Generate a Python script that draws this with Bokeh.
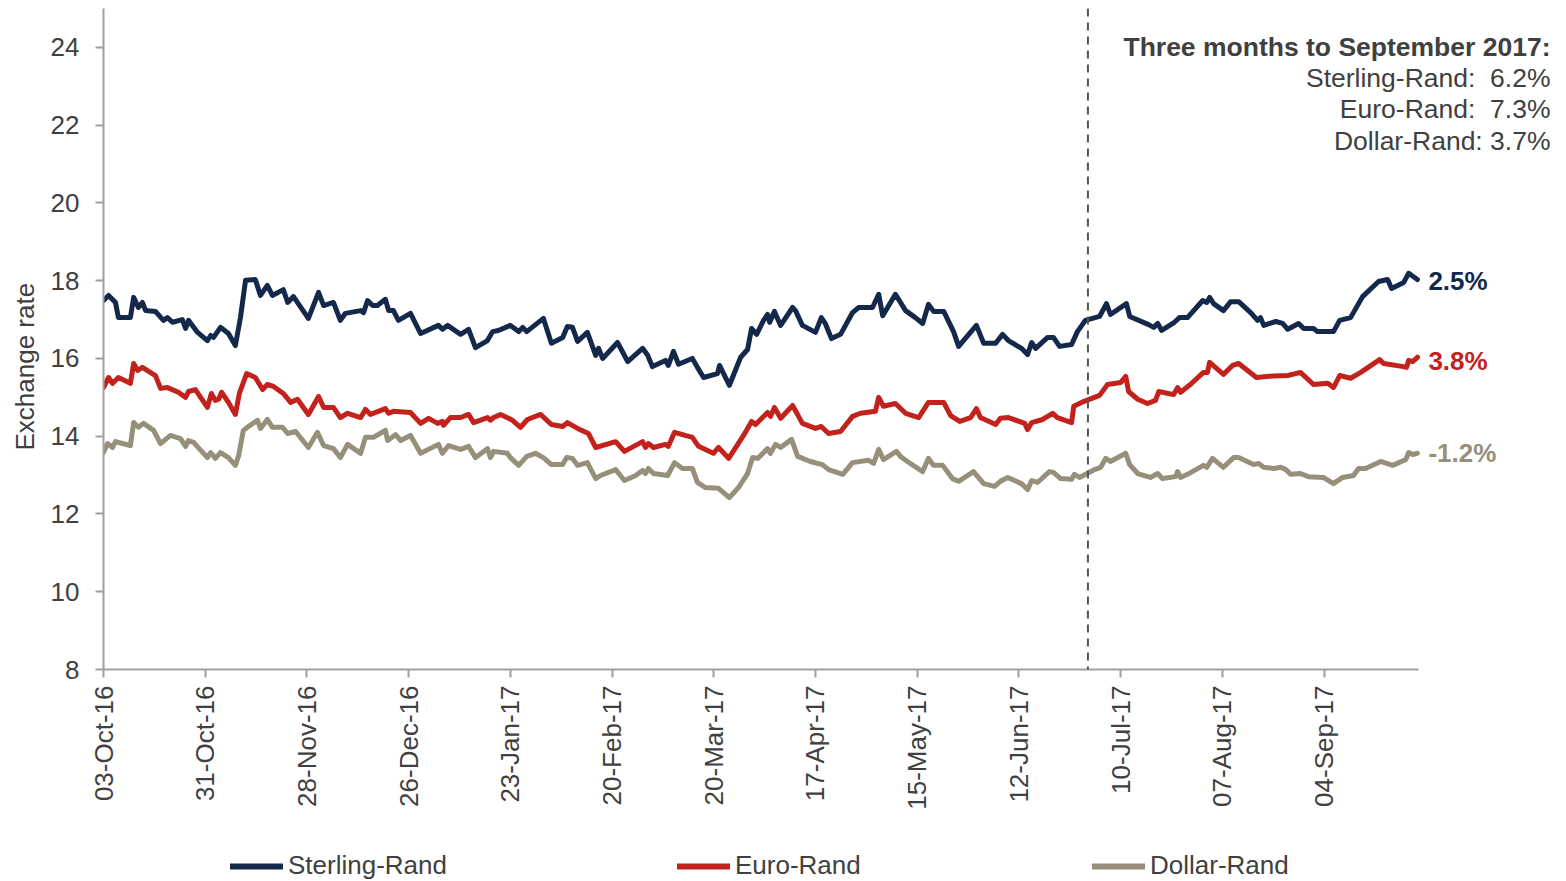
import math
import numpy as np
import pandas as pd
from bokeh.plotting import figure
from bokeh.layouts import column
from bokeh.models import (Range1d, FixedTicker, DatetimeTickFormatter, Span, Label,
                          Legend, LegendItem, Title)
from bokeh.embed import file_html
from bokeh.resources import INLINE

# ---------------- data ----------------
START = "2016-10-03"

sterling_days = [
    0, 1.4, 3.3, 4.1, 7.4, 8.3, 9.6, 10.7, 11.6, 14.3,
    16.5, 17.6, 19.0, 21.7, 22.6, 23.4, 25.9, 28.6, 29.5, 30.3,
    32.2, 34.4, 36.3, 37.7, 39.1, 41.8, 43.2, 45.1, 46.5, 49.5,
    50.7, 52.3, 56.4, 59.2, 60.6, 63.3, 65.2, 66.6, 70.8, 71.6,
    72.7, 74.1, 75.4, 77.6, 78.5, 79.8, 81.2, 84.5, 87.3, 92.2,
    93.3, 94.7, 98.3, 100.5, 102.4, 105.7, 107.1, 108.7, 112.0, 114.3,
    115.4, 116.5, 121.1, 123.3, 126.4, 127.7, 129.1, 130.5, 133.2, 135.5,
    136.3, 137.4, 141.5, 144.3, 148.4, 149.8, 151.1, 154.7, 155.5, 156.9,
    158.3, 162.1, 163.5, 165.2, 169.0, 169.6, 170.7, 172.3, 175.4, 177.3,
    178.4, 179.8, 181.7, 182.8, 183.4, 184.7, 186.4, 189.7, 190.5, 192.4,
    196.0, 197.6, 198.7, 200.4, 202.9, 206.2, 207.9, 211.7, 213.4, 214.5,
    218.0, 220.8, 223.5, 225.5, 227.1, 228.5, 231.3, 234.0, 235.4, 240.3,
    242.3, 245.6, 247.5, 249.1, 252.7, 254.4, 255.5, 256.6, 259.9, 261.5,
    263.2, 266.5, 268.1, 270.3, 274.2, 276.1, 277.2, 281.6, 282.5, 287.7,
    289.1, 290.2, 291.3, 294.8, 296.2, 298.4, 302.6, 303.7, 304.5, 305.6,
    308.3, 310.3, 312.5, 315.8, 317.7, 318.5, 319.4, 322.7, 324.6, 326.0,
    329.0, 330.4, 333.1, 334.2, 338.6, 340.3, 343.3, 346.6, 351.0, 353.5,
    354.6, 357.9, 359.3, 361.7,
]
sterling_rate = [
    17.49, 17.62, 17.44, 17.05, 17.05, 17.57, 17.31, 17.44, 17.23, 17.21,
    16.98, 17.05, 16.93, 17.00, 16.77, 16.98, 16.67, 16.46, 16.59, 16.54,
    16.80, 16.64, 16.33, 17.05, 18.01, 18.03, 17.62, 17.88, 17.62, 17.77,
    17.44, 17.59, 17.03, 17.70, 17.36, 17.44, 16.98, 17.16, 17.23, 17.18,
    17.49, 17.36, 17.36, 17.52, 17.23, 17.23, 16.98, 17.16, 16.64, 16.85,
    16.75, 16.85, 16.62, 16.75, 16.28, 16.46, 16.69, 16.72, 16.85, 16.69,
    16.80, 16.69, 17.03, 16.39, 16.54, 16.82, 16.80, 16.44, 16.67, 16.08,
    16.26, 16.00, 16.41, 15.92, 16.26, 16.08, 15.79, 15.95, 15.82, 16.18,
    15.85, 16.00, 15.77, 15.51, 15.61, 15.82, 15.61, 15.31, 16.03, 16.23,
    16.77, 16.62, 16.98, 17.13, 16.93, 17.21, 16.85, 17.31, 17.23, 16.85,
    16.67, 17.05, 16.90, 16.51, 16.62, 17.18, 17.31, 17.31, 17.65, 17.10,
    17.65, 17.23, 17.05, 16.90, 17.39, 17.21, 17.21, 16.69, 16.31, 16.85,
    16.39, 16.39, 16.62, 16.46, 16.26, 16.10, 16.41, 16.26, 16.54, 16.54,
    16.31, 16.36, 16.69, 16.98, 17.08, 17.41, 17.13, 17.41, 17.08, 16.87,
    16.80, 16.90, 16.72, 16.93, 17.05, 17.05, 17.49, 17.44, 17.57, 17.41,
    17.23, 17.46, 17.46, 17.18, 16.98, 17.05, 16.85, 16.95, 16.90, 16.75,
    16.90, 16.77, 16.77, 16.69, 16.69, 16.98, 17.05, 17.59, 17.98, 18.03,
    17.80, 17.95, 18.19, 18.03,
]

euro_days = [
    0, 1.4, 2.5, 4.1, 7.4, 8.3, 9.4, 10.7, 14.3, 15.7,
    17.6, 20.6, 22.6, 23.4, 25.3, 28.6, 29.7, 30.8, 31.7, 32.5,
    34.4, 36.3, 37.4, 39.4, 41.8, 43.8, 45.1, 46.8, 49.5, 51.5,
    53.4, 56.4, 59.2, 60.6, 63.3, 65.2, 67.2, 70.8, 72.1, 73.5,
    77.6, 78.5, 79.8, 84.5, 87.3, 89.5, 92.0, 93.3, 93.6, 95.5,
    98.3, 100.5, 101.9, 105.7, 106.5, 107.4, 109.3, 112.6, 114.8, 116.7,
    120.3, 123.3, 126.4, 127.7, 130.5, 133.5, 135.5, 141.0, 143.4, 148.4,
    149.2, 150.0, 151.4, 154.7, 155.5, 157.2, 162.1, 163.8, 167.9, 169.3,
    172.1, 176.2, 178.4, 179.5, 182.8, 183.6, 184.7, 186.4, 189.7, 192.4,
    196.0, 197.6, 199.6, 202.9, 206.2, 208.4, 212.5, 213.4, 214.7, 218.0,
    220.8, 224.4, 227.1, 231.3, 233.2, 235.7, 238.7, 240.3, 241.4, 245.6,
    246.9, 249.1, 253.6, 254.4, 255.5, 258.5, 261.3, 262.6, 266.5, 267.1,
    269.8, 274.2, 276.4, 280.0, 281.4, 282.2, 284.7, 287.4, 289.6, 290.5,
    294.6, 295.7, 296.5, 299.2, 302.8, 303.9, 304.5, 308.3, 310.8, 312.5,
    315.2, 317.4, 322.2, 326.0, 329.5, 333.1, 337.0, 338.6, 340.3, 343.3,
    346.1, 351.3, 352.4, 357.9, 358.7, 359.3, 360.4, 361.7,
]
euro_rate = [
    15.25, 15.51, 15.36, 15.51, 15.36, 15.87, 15.69, 15.77, 15.56, 15.23,
    15.25, 15.13, 15.00, 15.15, 15.20, 14.74, 15.10, 14.92, 14.95, 15.13,
    14.87, 14.56, 15.10, 15.61, 15.51, 15.20, 15.33, 15.28, 15.10, 14.87,
    14.95, 14.56, 15.02, 14.74, 14.74, 14.48, 14.59, 14.48, 14.69, 14.56,
    14.71, 14.59, 14.64, 14.61, 14.33, 14.46, 14.33, 14.38, 14.28, 14.48,
    14.48, 14.56, 14.35, 14.48, 14.41, 14.48, 14.56, 14.41, 14.23, 14.43,
    14.56, 14.30, 14.25, 14.35, 14.20, 14.07, 13.71, 13.86, 13.61, 13.86,
    13.71, 13.81, 13.71, 13.79, 13.74, 14.10, 13.97, 13.74, 13.56, 13.71,
    13.43, 14.02, 14.38, 14.30, 14.61, 14.51, 14.74, 14.46, 14.79, 14.33,
    14.20, 14.25, 14.07, 14.12, 14.51, 14.59, 14.64, 15.00, 14.77, 14.84,
    14.59, 14.48, 14.87, 14.87, 14.53, 14.38, 14.48, 14.71, 14.48, 14.30,
    14.46, 14.48, 14.33, 14.17, 14.35, 14.43, 14.59, 14.48, 14.35, 14.77,
    14.89, 15.05, 15.33, 15.38, 15.54, 15.15, 14.95, 14.84, 14.92, 15.15,
    15.07, 15.25, 15.13, 15.33, 15.64, 15.64, 15.90, 15.59, 15.82, 15.87,
    15.67, 15.51, 15.55, 15.56, 15.64, 15.33, 15.36, 15.25, 15.56, 15.49,
    15.64, 15.97, 15.87, 15.79, 15.77, 15.95, 15.92, 16.03,
]

dollar_days = [
    0, 1.1, 2.5, 3.3, 7.4, 8.3, 9.6, 11.0, 13.8, 15.7,
    18.4, 21.2, 22.6, 23.4, 24.8, 28.6, 29.5, 30.8, 32.2, 34.4,
    36.3, 37.2, 38.5, 39.9, 42.4, 43.2, 45.1, 46.5, 49.3, 50.7,
    52.9, 56.4, 58.9, 60.6, 63.3, 65.2, 67.2, 70.8, 72.1, 74.3,
    77.6, 78.2, 80.4, 81.8, 84.5, 87.3, 92.2, 93.3, 95.0, 98.3,
    100.5, 102.4, 105.7, 106.5, 107.4, 111.2, 112.0, 114.3, 116.5, 118.9,
    121.1, 123.3, 126.4, 127.5, 129.1, 130.5, 133.2, 135.5, 136.8, 141.0,
    143.4, 146.5, 148.4, 149.2, 150.0, 151.4, 155.3, 157.2, 159.4, 162.1,
    163.5, 165.7, 169.3, 172.3, 174.8, 177.3, 178.7, 180.1, 182.8, 183.6,
    185.0, 186.4, 189.4, 191.1, 194.6, 197.9, 199.6, 203.5, 206.2, 210.6,
    212.0, 213.4, 214.7, 218.3, 219.4, 221.3, 225.5, 227.1, 228.5, 231.0,
    233.7, 235.4, 239.5, 242.3, 245.3, 246.9, 248.9, 252.7, 254.4, 255.5,
    257.1, 260.4, 261.5, 263.5, 266.5, 267.3, 268.7, 272.3, 274.5, 275.9,
    277.2, 281.4, 282.5, 284.7, 288.2, 290.2, 291.5, 295.1, 295.7, 296.5,
    298.4, 302.8, 303.7, 305.3, 308.3, 311.1, 312.5, 316.6, 318.0, 319.4,
    322.2, 324.1, 325.5, 326.8, 329.5, 331.7, 335.8, 338.6, 341.1, 344.1,
    345.5, 347.4, 351.6, 354.9, 358.5, 359.3, 360.4, 361.7,
]
dollar_rate = [
    13.58, 13.81, 13.71, 13.86, 13.76, 14.35, 14.23, 14.33, 14.15, 13.81,
    14.02, 13.94, 13.74, 13.89, 13.84, 13.45, 13.58, 13.43, 13.58, 13.45,
    13.25, 13.50, 14.15, 14.25, 14.41, 14.20, 14.43, 14.23, 14.23, 14.07,
    14.12, 13.71, 14.10, 13.76, 13.68, 13.45, 13.79, 13.56, 13.97, 13.97,
    14.15, 13.89, 14.04, 13.89, 14.02, 13.56, 13.79, 13.56, 13.76, 13.66,
    13.74, 13.45, 13.68, 13.45, 13.61, 13.56, 13.45, 13.25, 13.48, 13.56,
    13.45, 13.27, 13.27, 13.45, 13.43, 13.25, 13.32, 12.91, 12.99, 13.14,
    12.86, 12.99, 13.12, 13.04, 13.17, 13.04, 12.99, 13.32, 13.17, 13.17,
    12.81, 12.68, 12.66, 12.42, 12.68, 13.04, 13.45, 13.43, 13.68, 13.56,
    13.79, 13.71, 13.92, 13.48, 13.35, 13.27, 13.14, 13.02, 13.32, 13.38,
    13.30, 13.66, 13.40, 13.61, 13.48, 13.35, 13.09, 13.43, 13.25, 13.25,
    12.91, 12.84, 13.09, 12.78, 12.71, 12.84, 12.94, 12.78, 12.63, 12.86,
    12.81, 13.09, 13.07, 12.91, 12.89, 13.02, 12.94, 13.12, 13.20, 13.43,
    13.35, 13.56, 13.27, 13.04, 12.94, 13.04, 12.91, 12.96, 13.09, 12.94,
    13.02, 13.25, 13.20, 13.43, 13.20, 13.45, 13.45, 13.27, 13.30, 13.20,
    13.17, 13.20, 13.14, 13.02, 13.04, 12.96, 12.94, 12.78, 12.94, 12.99,
    13.17, 13.17, 13.35, 13.25, 13.40, 13.58, 13.53, 13.56,
]

series_names = ["Sterling-Rand", "Euro-Rand", "Dollar-Rand"]
year_change = ["2.5%", "3.8%", "-1.2%"]
quarter_change = ["6.2%", "7.3%", "3.7%"]
quarter_title = "Three months to September 2017:"
quarter_start = "2017-07-01"
x_tick_dates = ["2016-10-03", "2016-10-31", "2016-11-28", "2016-12-26", "2017-01-23",
                "2017-02-20", "2017-03-20", "2017-04-17", "2017-05-15", "2017-06-12",
                "2017-07-10", "2017-08-07", "2017-09-04"]
y_ticks = [8, 10, 12, 14, 16, 18, 20, 22, 24]
x_end = "2017-09-30"

# ---------------- style / layout ----------------
COLORS = ["#13284A", "#C3221C", "#968F79"]
TEXT = "#404040"
AXIS = "#A0A0A0"
FONT = "Liberation Sans"
FS = "26px"

W, H = 1566, 881
LEG_H = 30                      # legend strip at the bottom
MAIN_H = H - LEG_H
LEFT, TOP = 103, 8
AXIS_RIGHT = 1418               # where the x axis ends (canvas px)
FRAME_BOTTOM = 669              # canvas px
BOTTOM = MAIN_H - FRAME_BOTTOM


def ms(d):
    return pd.Timestamp(d).value / 1e6


def to_dates(days):
    return pd.Timestamp(START) + pd.to_timedelta(np.asarray(days, dtype=float), unit="D")


# frame spans to the right edge so that end labels and notes are not clipped;
# the x range is stretched so the axis (bounded) still ends at AXIS_RIGHT
frame_w = W - LEFT
x0, x1 = ms(START), ms(x_end)
x_range_end = x0 + (x1 - x0) * frame_w / (AXIS_RIGHT - LEFT)

p = figure(width=W, height=MAIN_H, x_axis_type="datetime", output_backend="svg",
           toolbar_location=None,
           x_range=Range1d(x0, x_range_end), y_range=Range1d(8, 25),
           min_border_left=LEFT, min_border_right=0,
           min_border_top=TOP, min_border_bottom=BOTTOM)
p.outline_line_color = None
p.grid.visible = False

series = [(sterling_days, sterling_rate), (euro_days, euro_rate), (dollar_days, dollar_rate)]
for (d, v), c in zip(series, COLORS):
    assert len(d) == len(v)
    p.line(to_dates(d), v, line_color=c, line_width=5, line_join="round", line_cap="round")

# axes
for ax in (p.xaxis[0], p.yaxis[0]):
    ax.axis_line_color = AXIS
    ax.axis_line_width = 2
    ax.major_tick_line_color = AXIS
    ax.major_tick_line_width = 2
    ax.major_tick_out = 8
    ax.major_tick_in = 0
    ax.minor_tick_line_color = None
    ax.major_label_text_color = TEXT
    ax.major_label_text_font = FONT
    ax.major_label_text_font_size = FS

p.yaxis[0].ticker = FixedTicker(ticks=y_ticks)
p.yaxis[0].major_label_standoff = 16
p.xaxis[0].ticker = FixedTicker(ticks=[ms(t) for t in x_tick_dates])
p.xaxis[0].bounds = (x0, x1)
fmt = "%d-%b-%y"
p.xaxis[0].formatter = DatetimeTickFormatter(days=fmt, months=fmt, years=fmt,
                                             hours=fmt, minutes=fmt, seconds=fmt)
p.xaxis[0].major_label_orientation = math.pi / 2
p.xaxis[0].major_label_standoff = 8

# y-axis title (as a side title so it can be shifted along the axis)
p.add_layout(Title(text="Exchange rate", align="left", offset=FRAME_BOTTOM - 450,
                   vertical_align="top",
                   text_font=FONT, text_font_size=FS, text_font_style="normal",
                   text_color=TEXT, standoff=12), "left")

# quarter marker
p.add_layout(Span(location=ms(quarter_start), dimension="height", line_color="#555555",
                  line_width=2, line_dash="8 6"))

# annotation block
NOTE_RIGHT = 1550 - LEFT
p.add_layout(Label(x=NOTE_RIGHT, y=FRAME_BOTTOM - 46, x_units="screen", y_units="screen",
                   text=quarter_title, text_align="right", text_baseline="middle",
                   text_font=FONT, text_font_size="26.5px", text_font_style="bold",
                   text_color=TEXT))
seps = ["\u00a0 ", "\u00a0 ", " "]
for i, (name, q) in enumerate(zip(series_names, quarter_change)):
    p.add_layout(Label(x=NOTE_RIGHT, y=FRAME_BOTTOM - (77 + 31.5 * i), x_units="screen",
                       y_units="screen", text=f"{name}:{seps[i]}{q}", text_align="right",
                       text_baseline="middle", text_font=FONT, text_font_size="26.5px",
                       text_color=TEXT))

# end-of-line labels
end_dy = [-1, -4, 0]
for (d, v), c, t, dy in zip(series, COLORS, year_change, end_dy):
    p.add_layout(Label(x=ms(to_dates([d[-1]])[0]), y=v[-1], text=t, x_offset=11,
                       y_offset=dy, text_align="left", text_baseline="middle",
                       text_font=FONT, text_font_size=FS, text_font_style="bold",
                       text_color=c))

# ---------------- legend strip ----------------
lf = figure(width=W, height=LEG_H, output_backend="svg", toolbar_location=None,
            x_range=Range1d(0, 1), y_range=Range1d(0, 1),
            min_border_left=LEFT, min_border_right=0,
            min_border_top=0, min_border_bottom=0,
            x_axis_location=None, y_axis_location=None)
lf.outline_line_color = None
lf.grid.visible = False

leg_x = [230, 677, 1092]
for name, c, lx in zip(series_names, COLORS, leg_x):
    r = lf.line([np.nan, np.nan], [np.nan, np.nan], line_color=c, line_width=6,
                line_cap="round")
    lg = Legend(items=[LegendItem(label=name, renderers=[r])],
                location=(lx - LEFT, 0), orientation="horizontal",
                border_line_color=None, background_fill_alpha=0, padding=0, margin=0,
                spacing=0, glyph_width=53, glyph_height=LEG_H, label_height=LEG_H,
                label_standoff=5, label_text_font=FONT, label_text_font_size=FS,
                label_text_color=TEXT)
    lf.add_layout(lg)

layout = column(p, lf, spacing=0)
open("out.html", "w").write(file_html(layout, INLINE))
